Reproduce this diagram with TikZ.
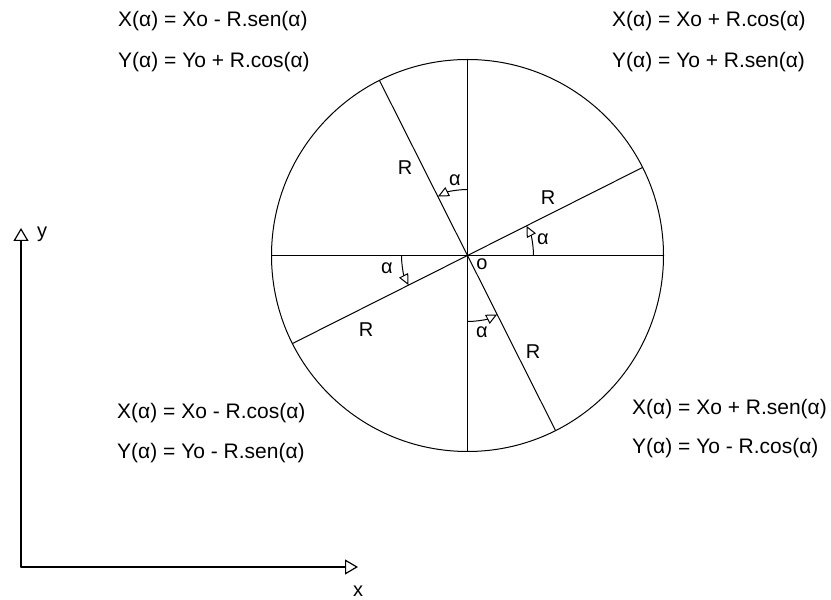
\documentclass[tikz,border=0pt]{standalone}
\usepackage{fontspec}
\setmainfont{Liberation Sans}
\usetikzlibrary{arrows.meta,calc}

\tikzset{
  eje/.style={line width=1.2pt,-{Triangle[open,length=13pt,width=15pt]}},
  radio/.style={line width=1pt},
  angulo/.style={line width=1pt,-{Triangle[open,length=11pt,width=10pt]}},
  formula/.style={anchor=west,inner sep=0pt,font=\fontsize{21}{25}\selectfont},
  etiq/.style={inner sep=0pt,font=\fontsize{20}{24}\selectfont}
}

\begin{document}
\begin{tikzpicture}[x=1pt,y=1pt,line cap=round]
  \useasboundingbox (0,0) rectangle (831,600);
  % ejes x, y
  \coordinate (E0) at (21,33);
  \coordinate (Ey) at (21,372);
  \coordinate (Ex) at (358,33);
  \draw[eje] (E0) -- (Ey);
  \draw[eje] (E0) -- (Ex);
  \node[etiq] (ly) at (42,366) {y};
  \node[etiq] (lx) at (358,9) {x};
  % circunferencia y diametros
  \def\ang{26.7}
  \coordinate (O) at (467.5,344.5);
  \draw[radio] (O) circle (196);
  \foreach \a in {0,90,\ang,90+\ang}{
    \draw[radio] ($(O)+(\a+180:196)$) -- ($(O)+(\a:196)$);
  }
  % arcos del angulo alfa
  \foreach \a in {0,90,180,270}{
    \draw[angulo] ($(O)+(\a:66)$) arc[start angle=\a,end angle=\a+\ang,radius=66];
  }
  \node[etiq] (a1) at (543,361) {α};
  \node[etiq] (a2) at (455,420) {α};
  \node[etiq] (a3) at (387,332) {α};
  \node[etiq] (a4) at (482,268) {α};
  \node[etiq] (r1) at (548,402) {R};
  \node[etiq] (r2) at (405,432) {R};
  \node[etiq] (r3) at (366,270) {R};
  \node[etiq] (r4) at (533,248) {R};
  \node[etiq] (lo) at (482,336) {o};
  % formulas por cuadrante
  \node[formula] (f2x) at (118,579) {X(α) = Xo - R.sen(α)};
  \node[formula] (f2y) at (118,538) {Y(α) = Yo + R.cos(α)};
  \node[formula] (f1x) at (612,579) {X(α) = Xo + R.cos(α)};
  \node[formula] (f1y) at (612,538) {Y(α) = Yo + R.sen(α)};
  \node[formula] (f3x) at (117,187) {X(α) = Xo - R.cos(α)};
  \node[formula] (f3y) at (117,147) {Y(α) = Yo - R.sen(α)};
  \node[formula] (f4x) at (632,191) {X(α) = Xo + R.sen(α)};
  \node[formula] (f4y) at (632,152) {Y(α) = Yo - R.cos(α)};
\end{tikzpicture}
\end{document}
